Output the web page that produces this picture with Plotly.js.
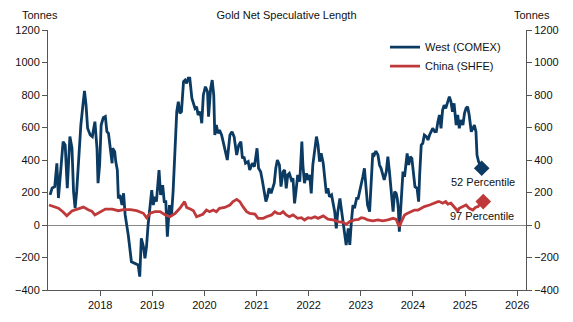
<!DOCTYPE html>
<html>
<head>
<meta charset="utf-8">
<script src="https://cdn.plot.ly/plotly-3.0.1.min.js"></script>
<style>html,body{margin:0;padding:0;background:#fff;}#chart{width:573px;height:322px;}</style>
</head>
<body>
<div id="chart"></div>
<script>
// Decimal-year dates and net speculative length (tonnes)
const westYears = [2017.04,2017.08,2017.13,2017.17,2017.20,2017.23,2017.29,2017.33,2017.37,2017.42,2017.46,2017.49,2017.52,2017.55,2017.58,2017.63,2017.67,2017.70,2017.73,2017.76,2017.81,2017.85,2017.90,2017.94,2017.96,2017.99,
2018.02,2018.06,2018.10,2018.13,2018.16,2018.19,2018.23,2018.24,2018.28,2018.30,2018.33,2018.35,2018.38,2018.42,2018.45,2018.48,2018.54,2018.60,2018.67,2018.73,2018.76,2018.79,2018.83,2018.86,2018.89,2018.92,2018.99,
2019.02,2019.05,2019.08,2019.13,2019.16,2019.20,2019.23,2019.26,2019.29,2019.33,2019.37,2019.40,2019.44,2019.47,2019.50,2019.53,2019.56,2019.60,2019.63,2019.66,2019.69,2019.72,2019.76,2019.79,2019.82,2019.85,2019.88,2019.92,2019.95,2019.98,
2020.02,2020.06,2020.08,2020.12,2020.15,2020.18,2020.20,2020.23,2020.26,2020.29,2020.33,2020.36,2020.40,2020.44,2020.49,2020.53,2020.57,2020.62,2020.66,2020.70,2020.73,2020.76,2020.79,2020.84,2020.87,2020.92,2020.96,2020.98,
2021.01,2021.04,2021.08,2021.11,2021.15,2021.18,2021.21,2021.24,2021.28,2021.31,2021.34,2021.37,2021.40,2021.44,2021.47,2021.51,2021.54,2021.57,2021.60,2021.63,2021.67,2021.70,2021.73,2021.76,2021.79,2021.83,2021.87,2021.89,2021.92,2021.96,2021.99,
2022.02,2022.05,2022.08,2022.12,2022.15,2022.18,2022.21,2022.24,2022.28,2022.31,2022.34,2022.37,2022.40,2022.44,2022.47,2022.50,2022.53,2022.56,2022.60,2022.63,2022.66,2022.69,2022.72,2022.76,2022.79,2022.82,2022.85,2022.88,2022.92,2022.95,2022.98,
2023.01,2023.04,2023.07,2023.10,2023.13,2023.17,2023.20,2023.23,2023.26,2023.29,2023.33,2023.36,2023.39,2023.42,2023.45,2023.49,2023.52,2023.55,2023.58,2023.62,2023.65,2023.68,2023.70,2023.72,2023.74,2023.78,2023.81,2023.84,2023.87,2023.89,2023.92,2023.95,2023.98,
2024.01,2024.04,2024.08,2024.11,2024.13,2024.16,2024.19,2024.22,2024.26,2024.29,2024.32,2024.35,2024.38,2024.42,2024.45,2024.48,2024.51,2024.54,2024.57,2024.60,2024.63,2024.67,2024.70,2024.73,2024.76,2024.79,2024.83,2024.86,2024.89,2024.92,2024.96,2024.99,
2025.02,2025.05,2025.08,2025.12,2025.15,2025.18,2025.21,2025.23,2025.26,2025.32];
const westVals = [185,228,236,380,166,289,513,492,226,544,473,205,104,205,390,615,738,825,738,595,554,544,636,472,257,369,
615,660,667,574,564,472,380,472,451,390,338,164,185,123,195,62,-62,-226,-236,-246,-318,-82,-133,-205,-133,0,215,
123,174,144,338,185,246,144,144,-72,123,62,205,451,697,759,687,697,882,892,872,903,903,780,749,718,728,677,697,626,800,
851,821,667,841,892,800,554,615,564,585,554,513,451,400,554,574,544,431,492,513,410,420,380,390,338,380,359,420,
472,349,328,277,205,144,174,226,195,226,257,349,400,369,236,328,338,226,308,318,277,287,133,215,308,267,513,369,257,318,277,
308,195,369,472,544,492,390,441,380,287,195,226,174,185,123,82,-21,82,164,92,21,-41,-123,-21,-123,21,123,103,164,164,205,
246,297,349,205,123,82,287,441,431,455,431,369,349,308,277,328,420,328,205,82,205,195,164,103,-41,164,328,297,369,441,369,420,410,
308,236,226,144,308,492,503,554,544,523,554,574,595,574,575,636,677,595,708,738,718,759,790,759,697,749,615,677,595,646,615,687,
718,728,677,574,595,615,574,431,390,349];

const chinaYears = [2017.02,2017.20,2017.29,2017.36,2017.46,2017.55,2017.65,2017.68,2017.78,2017.84,2017.90,2018.00,2018.10,2018.23,2018.35,2018.45,
2018.58,2018.70,2018.83,2018.89,2018.96,2019.05,2019.15,2019.25,2019.34,2019.44,2019.53,2019.62,2019.66,2019.73,2019.79,2019.85,2019.92,2019.97,
2020.04,2020.10,2020.17,2020.23,2020.29,2020.39,2020.49,2020.55,2020.62,2020.68,2020.74,2020.81,2020.87,2020.97,2021.03,2021.13,2021.19,2021.29,2021.35,2021.40,2021.46,
2021.51,2021.57,2021.63,2021.70,2021.79,2021.86,2021.92,2021.99,2022.05,2022.12,2022.18,2022.28,2022.37,2022.47,2022.56,2022.66,2022.72,2022.79,2022.88,2022.96,
2023.01,2023.07,2023.13,2023.23,2023.33,2023.42,2023.52,2023.62,2023.68,2023.71,2023.74,2023.78,2023.84,2023.90,2023.97,2024.03,2024.10,2024.16,2024.22,2024.32,2024.42,2024.48,
2024.51,2024.57,2024.63,2024.67,2024.73,2024.79,2024.86,2024.89,2024.96,2025.02,2025.08,2025.15,2025.20,2025.25,2025.28,2025.35];
const chinaVals = [123,103,80,57,86,95,105,110,92,85,62,82,98,98,88,95,
95,88,72,45,72,82,82,62,51,72,103,144,108,98,88,51,62,66,
92,82,92,82,103,108,123,144,158,144,113,82,72,67,41,41,51,62,82,72,70,
82,62,51,62,41,45,31,45,41,51,41,56,36,31,21,17,4,21,31,35,
45,41,31,26,31,26,31,41,35,10,-10,21,62,72,82,92,92,103,113,123,139,144,
144,134,144,128,134,113,86,103,113,123,103,92,108,113,128,144];

const yearTicks = [2018,2019,2020,2021,2022,2023,2024,2025,2026];
const westLabel = '52 Percentile';
const chinaLabel = '97 Percentile';

const navy = '#0b3a62';
const red = '#c0393a';
const fontFam = '"Liberation Sans", Arial, sans-serif';

const traces = [
  {x: westYears, y: westVals, type: 'scatter', mode: 'lines', name: 'West (COMEX)',
   line: {color: navy, width: 2.8}, hoverinfo: 'skip'},
  {x: chinaYears, y: chinaVals, type: 'scatter', mode: 'lines', name: 'China (SHFE)',
   line: {color: red, width: 2.8}, hoverinfo: 'skip'},
  {x: westYears.slice(-1), y: westVals.slice(-1), type: 'scatter', mode: 'markers', showlegend: false,
   marker: {symbol: 'diamond', size: 12, color: navy}, hoverinfo: 'skip'},
  {x: chinaYears.slice(-1), y: chinaVals.slice(-1), type: 'scatter', mode: 'markers', showlegend: false,
   marker: {symbol: 'diamond', size: 12, color: red}, hoverinfo: 'skip'},
  {x: [2017.5], y: [0], yaxis: 'y2', type: 'scatter', mode: 'markers', showlegend: false,
   marker: {opacity: 0}, hoverinfo: 'skip'}
];

const layout = {
  width: 573, height: 322,
  margin: {l: 48, r: 47, t: 30, b: 32},
  paper_bgcolor: '#fff', plot_bgcolor: '#fff',
  font: {family: fontFam, size: 11, color: '#111'},
  showlegend: true,
  title: {text: 'Gold Net Speculative Length', x: 0.5, xanchor: 'center', y: 0.965, yanchor: 'top',
          font: {family: fontFam, size: 11, color: '#111'}},
  legend: {x: 0.705, y: 0.99, xanchor: 'left', yanchor: 'top', bgcolor: 'rgba(255,255,255,0)',
           font: {family: fontFam, size: 11, color: '#111'}, tracegroupgap: 0},
  xaxis: {range: [2017.0, 2026.17], tickmode: 'array', tickvals: yearTicks, ticktext: yearTicks.map(String),
          showgrid: false, zeroline: false, showline: true, linecolor: '#555', linewidth: 1,
          ticks: 'outside', ticklen: 5, tickcolor: '#555', tickfont: {size: 11, color: '#111'}},
  yaxis: {range: [-400, 1200], tickmode: 'linear', tick0: -400, dtick: 200,
          showgrid: false, zeroline: true, zerolinecolor: '#888', zerolinewidth: 1,
          showline: true, linecolor: '#555', linewidth: 1,
          ticks: 'outside', ticklen: 5, tickcolor: '#555', tickfont: {size: 11, color: '#111'}},
  yaxis2: {range: [-400, 1200], overlaying: 'y', side: 'right', tickmode: 'linear', tick0: -400, dtick: 200,
          showgrid: false, zeroline: false, showline: true, linecolor: '#555', linewidth: 1,
          ticks: 'outside', ticklen: 5, tickcolor: '#555', tickfont: {size: 11, color: '#111'}},
  annotations: [
    {text: 'Tonnes', xref: 'paper', yref: 'paper', x: -0.017, y: 1.0, yshift: 15, xanchor: 'center', yanchor: 'middle', showarrow: false,
     font: {size: 11, color: '#111'}},
    {text: 'Tonnes', xref: 'paper', yref: 'paper', x: 1.013, y: 1.0, yshift: 15, xanchor: 'center', yanchor: 'middle', showarrow: false,
     font: {size: 11, color: '#111'}},
    {text: westLabel, x: westYears[westYears.length-1], y: westVals[westVals.length-1], xref: 'x', yref: 'y',
     yshift: -14, xshift: 1, xanchor: 'center', yanchor: 'middle', showarrow: false, font: {size: 11, color: '#111'}},
    {text: chinaLabel, x: chinaYears[chinaYears.length-1], y: chinaVals[chinaVals.length-1], xref: 'x', yref: 'y',
     yshift: -14, xshift: -1, xanchor: 'center', yanchor: 'middle', showarrow: false, font: {size: 11, color: '#111'}}
  ]
};

Plotly.newPlot('chart', traces, layout, {staticPlot: true, displayModeBar: false});
</script>
</body>
</html>
